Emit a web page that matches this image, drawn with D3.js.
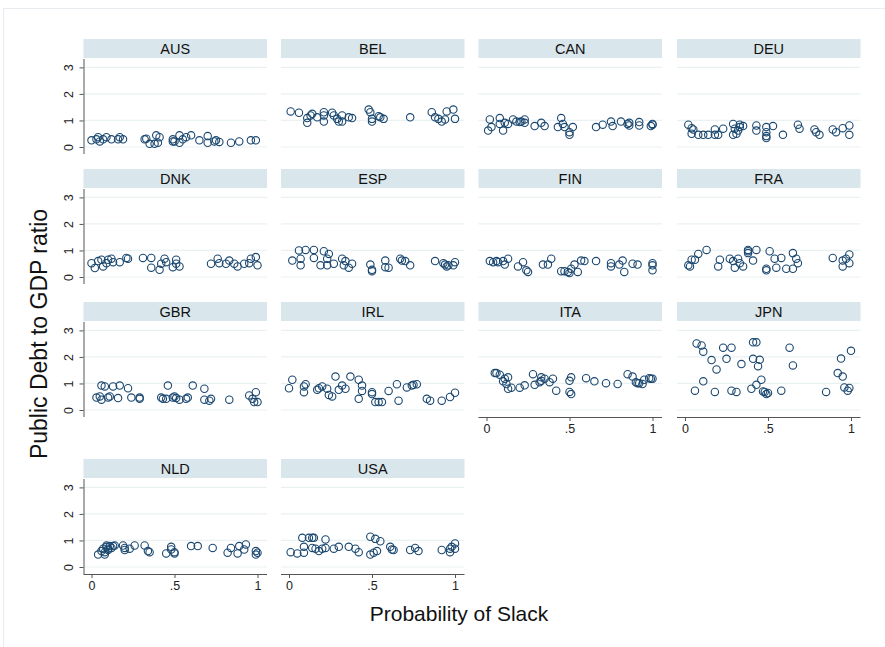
<!DOCTYPE html>
<html>
<head>
<meta charset="utf-8">
<script src="https://cdn.jsdelivr.net/npm/d3@7"></script>
<style>
  body { margin: 0; background: #fff; }
  svg { display: block; font-family: "Liberation Sans", Arial, sans-serif; }
</style>
</head>
<body>
<script>
'use strict';

// country panels, in display order
var countries = ['AUS', 'BEL', 'CAN', 'DEU', 'DNK', 'ESP', 'FIN', 'FRA',
                 'GBR', 'IRL', 'ITA', 'JPN', 'NLD', 'USA'];

var xTicks = [0, 0.5, 1];
var xTickLabels = ['0', '.5', '1'];
var yTicks = [0, 1, 2, 3];

// [probability of slack, public debt / GDP]
var AUS = [[0.00,0.25],[0.03,0.29],[0.04,0.37],[0.05,0.21],[0.07,0.29],[0.09,0.37],[0.12,0.29],
  [0.16,0.29],[0.17,0.37],[0.19,0.29],[0.32,0.29],[0.33,0.31],[0.35,0.12],[0.38,0.12],[0.39,0.44],
  [0.40,0.16],[0.41,0.37],[0.49,0.21],[0.49,0.29],[0.50,0.21],[0.53,0.44],[0.53,0.16],[0.55,0.29],
  [0.57,0.37],[0.60,0.44],[0.65,0.25],[0.70,0.41],[0.70,0.16],[0.74,0.21],[0.75,0.25],[0.77,0.19],
  [0.84,0.16],[0.89,0.21],[0.96,0.25],[0.99,0.25]];
var BEL = [[0.01,1.34],[0.06,1.29],[0.11,0.91],[0.11,1.09],[0.13,1.19],[0.14,1.25],[0.17,1.12],
  [0.21,1.31],[0.21,1.19],[0.21,0.96],[0.26,1.29],[0.27,1.19],[0.29,1.06],[0.30,0.96],[0.32,1.19],
  [0.32,0.96],[0.36,1.12],[0.38,1.09],[0.48,1.41],[0.49,1.31],[0.50,1.06],[0.50,0.96],[0.54,1.16],
  [0.55,1.12],[0.57,1.06],[0.73,1.12],[0.86,1.31],[0.88,1.12],[0.90,1.06],[0.92,0.96],[0.94,1.04],
  [0.95,1.34],[0.99,1.41],[1.00,1.06]];
var CAN = [[0.01,0.62],[0.02,1.04],[0.03,0.75],[0.08,1.09],[0.08,0.87],[0.10,0.62],[0.11,0.91],
  [0.13,0.87],[0.16,1.04],[0.18,0.96],[0.20,0.94],[0.21,0.96],[0.23,0.91],[0.23,1.04],[0.29,0.79],
  [0.33,0.91],[0.35,0.79],[0.43,0.75],[0.45,1.09],[0.46,0.87],[0.47,0.75],[0.50,0.56],[0.50,0.46],
  [0.52,0.75],[0.66,0.75],[0.70,0.84],[0.75,0.96],[0.76,0.79],[0.81,0.96],[0.85,0.87],[0.86,0.91],
  [0.86,0.81],[0.92,0.94],[0.92,0.81],[0.99,0.79],[1.00,0.87],[1.00,0.84]];
var DEU = [[0.02,0.84],[0.04,0.71],[0.05,0.66],[0.04,0.50],[0.08,0.46],[0.11,0.46],[0.14,0.46],
  [0.18,0.66],[0.18,0.46],[0.20,0.46],[0.23,0.69],[0.29,0.87],[0.30,0.69],[0.29,0.46],[0.31,0.50],
  [0.32,0.62],[0.33,0.84],[0.33,0.75],[0.35,0.79],[0.43,0.81],[0.43,0.62],[0.49,0.75],[0.49,0.56],
  [0.49,0.41],[0.49,0.34],[0.53,0.79],[0.59,0.46],[0.68,0.84],[0.69,0.69],[0.78,0.66],[0.79,0.56],
  [0.81,0.46],[0.89,0.66],[0.91,0.56],[0.95,0.71],[0.99,0.46],[0.99,0.81]];
var DNK = [[0.00,0.52],[0.02,0.34],[0.04,0.60],[0.06,0.65],[0.07,0.40],[0.09,0.52],[0.10,0.65],
  [0.12,0.69],[0.13,0.56],[0.17,0.56],[0.21,0.72],[0.22,0.69],[0.31,0.72],[0.36,0.72],[0.36,0.35],
  [0.41,0.27],[0.42,0.50],[0.44,0.69],[0.45,0.56],[0.49,0.37],[0.51,0.65],[0.51,0.50],[0.53,0.40],
  [0.72,0.50],[0.76,0.69],[0.77,0.52],[0.81,0.50],[0.83,0.62],[0.86,0.50],[0.88,0.40],[0.92,0.50],
  [0.95,0.52],[0.96,0.69],[0.99,0.75],[1.00,0.44]];
var ESP = [[0.02,0.62],[0.06,1.00],[0.07,0.69],[0.07,0.44],[0.10,1.02],[0.15,1.02],[0.15,0.72],
  [0.19,0.44],[0.21,0.97],[0.23,0.69],[0.23,0.44],[0.24,0.87],[0.27,0.50],[0.32,0.69],[0.33,0.44],
  [0.34,0.60],[0.36,0.35],[0.38,0.50],[0.49,0.47],[0.50,0.27],[0.50,0.22],[0.58,0.37],[0.58,0.62],
  [0.60,0.35],[0.67,0.69],[0.68,0.62],[0.70,0.60],[0.73,0.44],[0.88,0.60],[0.93,0.52],[0.94,0.47],
  [0.95,0.40],[0.96,0.44],[0.99,0.44],[1.00,0.56]];
var FIN = [[0.02,0.60],[0.04,0.56],[0.06,0.60],[0.07,0.56],[0.10,0.60],[0.11,0.47],[0.13,0.69],
  [0.19,0.40],[0.22,0.56],[0.24,0.25],[0.25,0.19],[0.34,0.47],[0.37,0.47],[0.39,0.69],[0.45,0.22],
  [0.47,0.22],[0.49,0.19],[0.50,0.15],[0.51,0.31],[0.53,0.47],[0.55,0.19],[0.57,0.62],[0.59,0.60],
  [0.66,0.60],[0.75,0.52],[0.75,0.40],[0.80,0.47],[0.82,0.62],[0.83,0.19],[0.88,0.50],[0.91,0.47],
  [1.00,0.52],[1.00,0.44],[1.00,0.25]];
var FRA = [[0.02,0.44],[0.03,0.40],[0.04,0.65],[0.06,0.65],[0.08,0.87],[0.13,1.02],[0.20,0.40],
  [0.21,0.65],[0.27,0.69],[0.29,0.60],[0.30,0.35],[0.32,0.69],[0.33,0.52],[0.35,0.40],[0.38,1.02],
  [0.38,0.97],[0.38,0.90],[0.41,0.62],[0.43,1.02],[0.49,0.31],[0.49,0.25],[0.51,0.97],[0.54,0.69],
  [0.55,0.35],[0.58,0.72],[0.61,0.31],[0.65,0.90],[0.65,0.31],[0.67,0.69],[0.68,0.52],[0.89,0.72],
  [0.95,0.62],[0.95,0.40],[0.97,0.69],[0.99,0.85],[0.99,0.52]];
var GBR = [[0.03,0.47],[0.05,0.51],[0.06,0.39],[0.06,0.92],[0.08,0.89],[0.10,0.47],[0.11,0.51],
  [0.13,0.89],[0.16,0.45],[0.17,0.92],[0.22,0.82],[0.24,0.47],[0.29,0.47],[0.29,0.42],[0.42,0.47],
  [0.43,0.42],[0.45,0.42],[0.46,0.92],[0.49,0.47],[0.50,0.51],[0.51,0.45],[0.53,0.39],[0.57,0.42],
  [0.58,0.47],[0.61,0.92],[0.68,0.80],[0.68,0.39],[0.71,0.35],[0.72,0.42],[0.83,0.39],[0.95,0.55],
  [0.97,0.42],[0.98,0.30],[0.99,0.67],[1.00,0.30]];
var IRL = [[0.00,0.82],[0.02,1.14],[0.09,0.89],[0.09,0.67],[0.10,0.97],[0.17,0.76],[0.18,0.82],
  [0.20,0.89],[0.23,0.80],[0.24,0.57],[0.26,0.51],[0.28,1.26],[0.30,0.76],[0.32,0.92],[0.34,0.80],
  [0.37,1.26],[0.42,0.42],[0.42,1.14],[0.44,0.92],[0.44,0.72],[0.50,0.67],[0.50,0.60],[0.52,0.30],
  [0.54,0.30],[0.56,0.30],[0.60,0.72],[0.65,0.97],[0.66,0.35],[0.71,0.85],[0.74,0.92],[0.75,0.95],
  [0.77,0.97],[0.83,0.42],[0.85,0.35],[0.92,0.35],[0.97,0.49],[1.00,0.65]];
var ITA = [[0.05,1.39],[0.06,1.39],[0.08,1.33],[0.10,1.08],[0.11,1.18],[0.12,0.98],[0.13,1.23],
  [0.13,0.80],[0.15,0.84],[0.20,0.84],[0.23,0.93],[0.28,1.35],[0.29,0.95],[0.32,1.05],[0.33,1.23],
  [0.33,1.10],[0.35,1.18],[0.38,1.05],[0.40,1.18],[0.42,0.73],[0.50,1.10],[0.51,1.23],[0.50,0.68],
  [0.51,0.60],[0.60,1.20],[0.65,1.08],[0.72,1.01],[0.79,0.98],[0.85,1.35],[0.88,1.26],[0.90,1.05],
  [0.91,1.01],[0.92,1.01],[0.94,0.98],[0.95,1.14],[0.98,1.20],[0.99,1.18],[1.00,1.18]];
var JPN = [[0.06,0.73],[0.07,2.51],[0.10,2.43],[0.11,2.20],[0.11,1.08],[0.16,1.88],[0.18,0.68],
  [0.19,1.53],[0.23,2.35],[0.25,1.93],[0.28,0.73],[0.28,2.35],[0.31,0.68],[0.34,1.73],[0.40,0.80],
  [0.41,2.55],[0.41,1.93],[0.43,2.55],[0.43,0.95],[0.44,1.65],[0.45,1.89],[0.46,1.14],[0.47,0.70],
  [0.48,0.68],[0.49,0.60],[0.50,0.64],[0.58,0.73],[0.63,2.35],[0.65,1.68],[0.85,0.68],[0.92,1.39],
  [0.94,1.94],[0.95,1.26],[0.96,0.85],[0.98,0.73],[0.99,0.83],[1.00,2.23]];
var NLD = [[0.04,0.47],[0.06,0.60],[0.07,0.69],[0.08,0.56],[0.08,0.47],[0.09,0.76],[0.09,0.81],
  [0.10,0.69],[0.10,0.64],[0.11,0.79],[0.12,0.72],[0.13,0.79],[0.14,0.81],[0.19,0.81],[0.20,0.72],
  [0.20,0.64],[0.23,0.69],[0.26,0.81],[0.32,0.81],[0.34,0.60],[0.35,0.56],[0.45,0.51],[0.48,0.76],
  [0.48,0.66],[0.50,0.56],[0.50,0.51],[0.60,0.79],[0.64,0.79],[0.73,0.72],[0.82,0.54],[0.84,0.72],
  [0.88,0.51],[0.89,0.79],[0.92,0.66],[0.93,0.85],[0.99,0.47],[0.99,0.60],[1.00,0.54]];
var USA = [[0.01,0.56],[0.05,0.51],[0.08,1.10],[0.09,0.54],[0.09,0.76],[0.12,1.10],[0.14,1.10],
  [0.14,0.72],[0.15,1.10],[0.16,0.69],[0.18,0.60],[0.20,0.69],[0.22,1.04],[0.22,0.72],[0.27,0.69],
  [0.30,0.76],[0.36,0.76],[0.40,0.69],[0.42,0.56],[0.49,1.14],[0.49,0.47],[0.51,0.54],[0.52,1.06],
  [0.53,0.60],[0.55,0.97],[0.61,0.76],[0.62,0.66],[0.63,0.64],[0.73,0.64],[0.76,0.72],[0.78,0.60],
  [0.92,0.64],[0.97,0.56],[0.97,0.69],[0.98,0.76],[1.00,0.89],[1.00,0.69]];

var series = [AUS, BEL, CAN, DEU, DNK, ESP, FIN, FRA, GBR, IRL, ITA, JPN, NLD, USA];

var width = 885, height = 647;
var colLeft = [83.5, 281, 478.5, 677];
var rowTop = [39, 169, 302, 459];
var panelW = 183.5, stripH = 19, plotBottom = 115;
var navy = '#1a476f';

var svg = d3.select('body').append('svg')
    .attr('width', width)
    .attr('height', height);

// faint outer frame (only top and left edges show)
svg.append('rect')
    .attr('x', 3.5).attr('y', 8.5)
    .attr('width', 1000).attr('height', 1000)
    .attr('fill', 'none')
    .attr('stroke', '#e6ecef');

var x = d3.scaleLinear().domain([0, 1]).range([8, 174]);
var y = d3.scaleLinear().domain([0, 3]).range([108, 28.4]);

countries.forEach(function (name, i) {
    var col = i % 4, row = Math.floor(i / 4);
    var g = svg.append('g')
        .attr('transform', 'translate(' + colLeft[col] + ',' + rowTop[row] + ')');

    // strip
    g.append('rect')
        .attr('width', panelW).attr('height', stripH)
        .attr('fill', '#d9e6eb');
    g.append('text')
        .attr('x', panelW / 2).attr('y', 14.8)
        .attr('text-anchor', 'middle')
        .attr('font-size', '14.5px')
        .attr('fill', '#111')
        .text(name);

    // grid lines
    g.selectAll('.grid')
        .data(yTicks)
        .enter()
        .append('line')
        .attr('x1', 0).attr('x2', panelW)
        .attr('y1', function (d) { return y(d); })
        .attr('y2', function (d) { return y(d); })
        .attr('stroke', '#eaf1f3')
        .attr('stroke-width', 1.2);

    // y axis on first column
    if (col === 0) {
        var ya = g.append('g')
            .call(d3.axisLeft(y).tickValues(yTicks).tickSize(4).tickFormat(d3.format('d')));
        ya.select('.domain').attr('d', 'M0.5,' + (stripH + 1) + 'V' + plotBottom).attr('stroke', '#555');
        ya.selectAll('.tick line').attr('stroke', '#555');
        ya.selectAll('.tick text')
            .attr('font-size', '12.5px')
            .attr('font-family', '"Liberation Sans", Arial, sans-serif')
            .attr('fill', '#222')
            .attr('text-anchor', 'middle')
            .attr('x', 0).attr('y', 0)
            .attr('dy', '0.36em')
            .attr('transform', 'translate(-15,0) rotate(-90)');
    }

    // x axis on the lowest panel of each column
    if (i >= 10) {
        var xa = g.append('g')
            .attr('transform', 'translate(0,' + plotBottom + ')')
            .call(d3.axisBottom(x).tickValues(xTicks).tickSize(4).tickPadding(3)
                .tickFormat(function (d, k) { return xTickLabels[k]; }));
        xa.select('.domain').attr('d', 'M0,0.5H' + panelW).attr('stroke', '#555');
        xa.selectAll('.tick line').attr('stroke', '#555');
        xa.selectAll('.tick text')
            .attr('font-size', '12.5px')
            .attr('font-family', '"Liberation Sans", Arial, sans-serif')
            .attr('fill', '#222');
    }

    // points
    g.selectAll('.pt')
        .data(series[i])
        .enter()
        .append('circle')
        .attr('cx', function (d) { return x(d[0]); })
        .attr('cy', function (d) { return y(d[1]); })
        .attr('r', 3.7)
        .attr('fill', 'none')
        .attr('stroke', navy)
        .attr('stroke-width', 1.1);
});

// axis titles
svg.append('text')
    .attr('transform', 'translate(47,334) rotate(-90)')
    .attr('text-anchor', 'middle')
    .attr('font-size', '23px')
    .attr('fill', '#111')
    .text('Public Debt to GDP ratio');

svg.append('text')
    .attr('x', 459).attr('y', 621)
    .attr('text-anchor', 'middle')
    .attr('font-size', '21px')
    .attr('fill', '#111')
    .text('Probability of Slack');
</script>
</body>
</html>
